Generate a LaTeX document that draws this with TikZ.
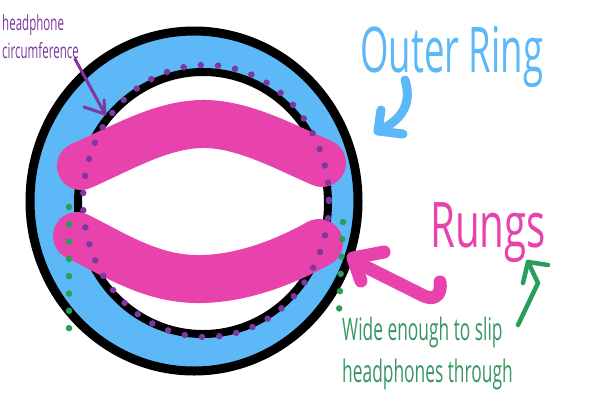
\documentclass[tikz,border=0pt]{standalone}
\usepackage{fontspec}
\usepackage{tikz}
\newfontfamily\widehand[FakeStretch=0.58]{Open Sans}
\newfontfamily\rungshand[FakeStretch=0.64]{Open Sans}
\newfontfamily\sliphand[FakeStretch=0.56]{Open Sans}
\newfontfamily\notehand[FakeStretch=0.55]{Open Sans}
\definecolor{ringblue}{RGB}{92,184,246}
\definecolor{rungpink}{RGB}{232,67,173}
\definecolor{dotpurple}{RGB}{125,55,160}
\definecolor{dotgreen}{RGB}{40,158,90}
\definecolor{textgreen}{RGB}{55,150,100}
\tikzstyle{rungband}=[
    draw=rungpink,    % the rungs are thick pink strokes
    line width=48pt,  % as wide as the drawn band
    line cap=round]
\tikzstyle{dotline}=[
    line width=6.5pt, % size of one dot
    line cap=round,   % round dots
    dash pattern=on 0pt off 17.3pt]
\tikzstyle{pen}=[
    line cap=round,   % hand drawn strokes
    line join=round]
\tikzstyle{note}=[
    inner sep=0pt,    % text sits right on its point
    anchor=base west]

\begin{document}
\begin{tikzpicture}[x=1pt, y=-1pt]
        \useasboundingbox (0,0) rectangle (600,400);

        % Draw the ring.
        \fill[ringblue, even odd rule] (194,201) ellipse [x radius=164, y radius=170]
            (203,203) ellipse [x radius=125, y radius=131];
        \draw[line width=9pt] (194,201) ellipse [x radius=164, y radius=170];
        \draw[line width=8pt] (203,203) ellipse [x radius=125, y radius=131];

        % Draw the rungs.
        \draw[rungband] (81,166) .. controls (120,149) and (160,125) .. (201,124)
            .. controls (242,123) and (285,147) .. (322,163);
        \draw[rungband] (77,236) .. controls (115,255) and (150,278) .. (195,279)
            .. controls (240,280) and (285,262) .. (319,243);

        % Dotted lines
        \draw[dotline, dotpurple] (206,201) ellipse [x radius=123, y radius=136];
        \draw[dotline, dotgreen] (69,207) -- (69,336);
        \draw[dotline, dotgreen] (343,222) -- (339,313);

        % Write the notes.
        \node[note, text=dotpurple, font=\notehand\fontsize{21}{21}\selectfont] (head) at (2,30) {headphone};
        \node[note, text=dotpurple, font=\notehand\fontsize{21}{21}\selectfont] (circ) at (2,58) {circumference};
        \node[note, text=ringblue, font=\widehand\fontsize{63}{63}\selectfont] (outer) at (360,72) {Outer Ring};
        \node[note, text=rungpink, font=\rungshand\fontsize{63}{63}\selectfont] (rungs) at (430,247) {Rungs};
        \node[note, text=textgreen, font=\sliphand\fontsize{31}{31}\selectfont] (slip) at (342,340) {Wide enough to slip};
        \node[note, text=textgreen, font=\sliphand\fontsize{31}{31}\selectfont] (through) at ([yshift=-42pt]slip.base west) {headphones through};

        % Arrow tips
        \coordinate (circtip) at (105,114);
        \coordinate (ringtip) at (378,131);
        \coordinate (rungtip) at (353,258);
        \coordinate (slipto) at (528,262);

        % Connect notes with arrows
        \draw[pen, dotpurple, line width=3pt] (75,59) -- (circtip);
        \draw[pen, dotpurple, line width=3pt] (104,100) -- (circtip) -- (84,107);
        \draw[pen, ringblue, line width=9pt] (405,80) .. controls (414,108) and (396,123) .. (ringtip);
        \draw[pen, ringblue, line width=9pt] (381,110) -- (ringtip) -- (403,134);
        \draw[pen, rungpink, line width=13pt] (440,282) .. controls (442,297) and (433,300) .. (424,296) -- (360,264);
        \draw[pen, rungpink, line width=13pt] (384,252) -- (rungtip) -- (361,281);
        \draw[pen, dotgreen, line width=4.5pt] (518,325) -- (538,283) -- (slipto);
        \draw[pen, dotgreen, line width=4.5pt] (523,283) -- (slipto) -- (548,265);
\end{tikzpicture}
\end{document}
